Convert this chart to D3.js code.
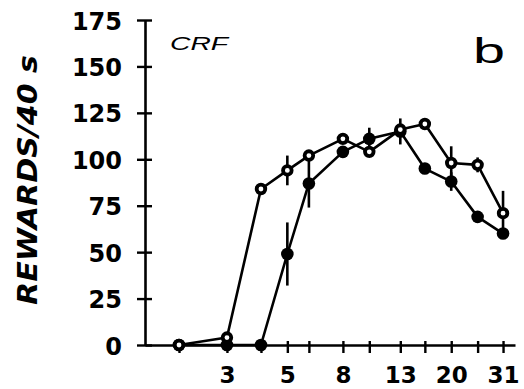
<!DOCTYPE html>
<html>
<head>
<meta charset="utf-8">
<script src="https://cdn.jsdelivr.net/npm/d3@7"></script>
<style>
  html, body { margin: 0; padding: 0; background: #fff; }
  svg { display: block; }
</style>
</head>
<body>
<svg id="chart" width="524" height="389"></svg>
<script>
// ---- data ----
const xValues = [2, 3, 4, 5, 6, 8, 10, 13, 16, 20, 25, 31];
const xTickLabels = [3, 5, 8, 13, 20, 31];
const yTicks = [0, 25, 50, 75, 100, 125, 150, 175];
const seriesEarly = [0, 4, 84, 94, 102, 111, 104, 116, 119, 98, 97, 71];
const errEarly    = [0, 0, 0, 8, 0, 0, 0, 0, 0, 9, 4, 12];
const seriesLate  = [0, 0, 0, 49, 87, 104, 111, 115, 95, 88, 69, 60];
const errLate     = [0, 0, 0, 17, 13, 0, 6, 7, 0, 5, 0, 0];
const yTitle = "REWARDS/40 s";
const condLabel = "CRF";
const panelLabel = "b";

// ---- layout ----
const svg = d3.select("#chart");
const x = d3.scaleLog().domain([1.5, 34.3]).range([145, 515]);
const y = d3.scaleLinear().domain([0, 175]).range([345, 20]);
const ink = "#000";
const tickFont = "'DejaVu Sans', sans-serif";

// y axis
const gy = svg.append("g").attr("transform", "translate(145,0)")
  .call(d3.axisLeft(y).tickValues(yTicks).tickSize(0).tickSizeOuter(0));
gy.select(".domain").attr("stroke", ink).attr("stroke-width", 2.6);
gy.selectAll(".tick line").remove();
gy.selectAll(".tick").append("line")
  .attr("x1", -8).attr("x2", 7).attr("stroke", ink).attr("stroke-width", 2.4);
gy.selectAll(".tick text")
  .attr("x", -23).attr("dy", 9).attr("text-anchor", "end")
  .attr("fill", ink).attr("font-family", tickFont).attr("font-weight", "bold")
  .attr("font-size", 24);

// x axis
const gx = svg.append("g").attr("transform", "translate(0,345)")
  .call(d3.axisBottom(x).tickValues(xValues)
    .tickFormat(d => xTickLabels.includes(d) ? String(d) : "")
    .tickSize(0).tickSizeOuter(0));
gx.select(".domain").attr("stroke", ink).attr("stroke-width", 2.6);
gx.selectAll(".tick line").remove();
gx.selectAll(".tick").append("line")
  .attr("y1", -4).attr("y2", 8).attr("stroke", ink).attr("stroke-width", 2.4);
gx.selectAll(".tick text")
  .attr("y", 38).attr("dy", 0).attr("text-anchor", "middle")
  .attr("fill", ink).attr("font-family", tickFont).attr("font-weight", "bold")
  .attr("font-size", 23);

// lines
const line = d3.line().x(d => x(d[0])).y(d => y(d[1]));
const early = xValues.map((v, i) => [v, seriesEarly[i], errEarly[i]]);
const late = xValues.map((v, i) => [v, seriesLate[i], errLate[i]]);

[early, late].forEach(s => {
  svg.append("path").datum(s).attr("d", line)
    .attr("fill", "none").attr("stroke", ink).attr("stroke-width", 2.6)
    .attr("stroke-linejoin", "round");
});

// error bars
[early, late].forEach(s => {
  svg.append("g").selectAll("line").data(s.filter(d => d[2] > 0)).join("line")
    .attr("x1", d => x(d[0])).attr("x2", d => x(d[0]))
    .attr("y1", d => y(d[1] - d[2])).attr("y2", d => y(d[1] + d[2]))
    .attr("stroke", ink).attr("stroke-width", 2.6);
});

// markers
svg.append("g").selectAll("circle").data(late).join("circle")
  .attr("cx", d => x(d[0])).attr("cy", d => y(d[1])).attr("r", 6.3)
  .attr("fill", ink);
svg.append("g").selectAll("circle").data(early).join("circle")
  .attr("cx", d => x(d[0])).attr("cy", d => y(d[1])).attr("r", 4.3)
  .attr("fill", "#fff").attr("stroke", ink).attr("stroke-width", 3.8);

// y title
svg.append("text")
  .attr("transform", "translate(37,180) rotate(-90)")
  .attr("text-anchor", "middle")
  .attr("font-family", tickFont).attr("font-style", "italic").attr("font-weight", "bold")
  .attr("font-size", 26).attr("fill", ink)
  .attr("textLength", 250).attr("lengthAdjust", "spacingAndGlyphs")
  .text(yTitle);

// condition label
svg.append("text")
  .attr("x", 170).attr("y", 50)
  .attr("font-family", "'Liberation Sans', sans-serif").attr("font-style", "italic")
  .attr("font-size", 18).attr("fill", ink)
  .attr("textLength", 58).attr("lengthAdjust", "spacingAndGlyphs")
  .text(condLabel);

// panel label
svg.append("text")
  .attr("x", 473).attr("y", 63)
  .attr("font-family", "'Liberation Sans', sans-serif")
  .attr("font-size", 35).attr("fill", ink)
  .attr("textLength", 32).attr("lengthAdjust", "spacingAndGlyphs")
  .text(panelLabel);
</script>
</body>
</html>
